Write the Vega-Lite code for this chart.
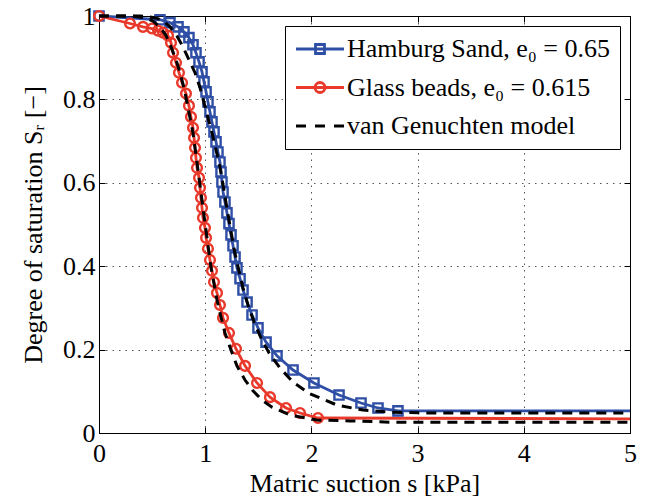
{
  "$schema": "https://vega.github.io/schema/vega-lite/v6.json",
  "autosize": {"type": "none"},
  "width": 531,
  "height": 417,
  "padding": {"left": 99, "top": 16, "right": 16, "bottom": 67},
  "background": "white",
  "datasets": {
    "measured": [
      {"series": "Hamburg Sand, e₀ = 0.65", "s": 0, "Sr": 1.0},
      {"series": "Hamburg Sand, e₀ = 0.65", "s": 0.574, "Sr": 0.991},
      {"series": "Hamburg Sand, e₀ = 0.65", "s": 0.668, "Sr": 0.984},
      {"series": "Hamburg Sand, e₀ = 0.65", "s": 0.744, "Sr": 0.974},
      {"series": "Hamburg Sand, e₀ = 0.65", "s": 0.8, "Sr": 0.962},
      {"series": "Hamburg Sand, e₀ = 0.65", "s": 0.847, "Sr": 0.948},
      {"series": "Hamburg Sand, e₀ = 0.65", "s": 0.885, "Sr": 0.931},
      {"series": "Hamburg Sand, e₀ = 0.65", "s": 0.913, "Sr": 0.912},
      {"series": "Hamburg Sand, e₀ = 0.65", "s": 0.942, "Sr": 0.89},
      {"series": "Hamburg Sand, e₀ = 0.65", "s": 0.97, "Sr": 0.866},
      {"series": "Hamburg Sand, e₀ = 0.65", "s": 0.989, "Sr": 0.842},
      {"series": "Hamburg Sand, e₀ = 0.65", "s": 1.008, "Sr": 0.818},
      {"series": "Hamburg Sand, e₀ = 0.65", "s": 1.026, "Sr": 0.794},
      {"series": "Hamburg Sand, e₀ = 0.65", "s": 1.045, "Sr": 0.77},
      {"series": "Hamburg Sand, e₀ = 0.65", "s": 1.064, "Sr": 0.746},
      {"series": "Hamburg Sand, e₀ = 0.65", "s": 1.083, "Sr": 0.722},
      {"series": "Hamburg Sand, e₀ = 0.65", "s": 1.102, "Sr": 0.698},
      {"series": "Hamburg Sand, e₀ = 0.65", "s": 1.12, "Sr": 0.674},
      {"series": "Hamburg Sand, e₀ = 0.65", "s": 1.139, "Sr": 0.65},
      {"series": "Hamburg Sand, e₀ = 0.65", "s": 1.149, "Sr": 0.626},
      {"series": "Hamburg Sand, e₀ = 0.65", "s": 1.158, "Sr": 0.602},
      {"series": "Hamburg Sand, e₀ = 0.65", "s": 1.168, "Sr": 0.578},
      {"series": "Hamburg Sand, e₀ = 0.65", "s": 1.186, "Sr": 0.554},
      {"series": "Hamburg Sand, e₀ = 0.65", "s": 1.205, "Sr": 0.528},
      {"series": "Hamburg Sand, e₀ = 0.65", "s": 1.224, "Sr": 0.502},
      {"series": "Hamburg Sand, e₀ = 0.65", "s": 1.243, "Sr": 0.475},
      {"series": "Hamburg Sand, e₀ = 0.65", "s": 1.262, "Sr": 0.449},
      {"series": "Hamburg Sand, e₀ = 0.65", "s": 1.281, "Sr": 0.422},
      {"series": "Hamburg Sand, e₀ = 0.65", "s": 1.299, "Sr": 0.396},
      {"series": "Hamburg Sand, e₀ = 0.65", "s": 1.328, "Sr": 0.37},
      {"series": "Hamburg Sand, e₀ = 0.65", "s": 1.356, "Sr": 0.343},
      {"series": "Hamburg Sand, e₀ = 0.65", "s": 1.394, "Sr": 0.314},
      {"series": "Hamburg Sand, e₀ = 0.65", "s": 1.441, "Sr": 0.283},
      {"series": "Hamburg Sand, e₀ = 0.65", "s": 1.497, "Sr": 0.252},
      {"series": "Hamburg Sand, e₀ = 0.65", "s": 1.573, "Sr": 0.218},
      {"series": "Hamburg Sand, e₀ = 0.65", "s": 1.676, "Sr": 0.185},
      {"series": "Hamburg Sand, e₀ = 0.65", "s": 1.827, "Sr": 0.151},
      {"series": "Hamburg Sand, e₀ = 0.65", "s": 2.024, "Sr": 0.12},
      {"series": "Hamburg Sand, e₀ = 0.65", "s": 2.26, "Sr": 0.091},
      {"series": "Hamburg Sand, e₀ = 0.65", "s": 2.467, "Sr": 0.072},
      {"series": "Hamburg Sand, e₀ = 0.65", "s": 2.627, "Sr": 0.06},
      {"series": "Hamburg Sand, e₀ = 0.65", "s": 2.815, "Sr": 0.053},
      {"series": "Hamburg Sand, e₀ = 0.65", "s": 5.0, "Sr": 0.053},
      {"series": "Glass beads, e₀ = 0.615", "s": 0, "Sr": 1.0},
      {"series": "Glass beads, e₀ = 0.615", "s": 0.292, "Sr": 0.982},
      {"series": "Glass beads, e₀ = 0.615", "s": 0.414, "Sr": 0.974},
      {"series": "Glass beads, e₀ = 0.615", "s": 0.499, "Sr": 0.97},
      {"series": "Glass beads, e₀ = 0.615", "s": 0.556, "Sr": 0.965},
      {"series": "Glass beads, e₀ = 0.615", "s": 0.603, "Sr": 0.96},
      {"series": "Glass beads, e₀ = 0.615", "s": 0.65, "Sr": 0.953},
      {"series": "Glass beads, e₀ = 0.615", "s": 0.678, "Sr": 0.936},
      {"series": "Glass beads, e₀ = 0.615", "s": 0.697, "Sr": 0.912},
      {"series": "Glass beads, e₀ = 0.615", "s": 0.725, "Sr": 0.888},
      {"series": "Glass beads, e₀ = 0.615", "s": 0.753, "Sr": 0.864},
      {"series": "Glass beads, e₀ = 0.615", "s": 0.782, "Sr": 0.84},
      {"series": "Glass beads, e₀ = 0.615", "s": 0.819, "Sr": 0.814},
      {"series": "Glass beads, e₀ = 0.615", "s": 0.847, "Sr": 0.785},
      {"series": "Glass beads, e₀ = 0.615", "s": 0.866, "Sr": 0.758},
      {"series": "Glass beads, e₀ = 0.615", "s": 0.885, "Sr": 0.732},
      {"series": "Glass beads, e₀ = 0.615", "s": 0.895, "Sr": 0.708},
      {"series": "Glass beads, e₀ = 0.615", "s": 0.904, "Sr": 0.684},
      {"series": "Glass beads, e₀ = 0.615", "s": 0.913, "Sr": 0.66},
      {"series": "Glass beads, e₀ = 0.615", "s": 0.923, "Sr": 0.636},
      {"series": "Glass beads, e₀ = 0.615", "s": 0.942, "Sr": 0.612},
      {"series": "Glass beads, e₀ = 0.615", "s": 0.951, "Sr": 0.588},
      {"series": "Glass beads, e₀ = 0.615", "s": 0.96, "Sr": 0.564},
      {"series": "Glass beads, e₀ = 0.615", "s": 0.97, "Sr": 0.54},
      {"series": "Glass beads, e₀ = 0.615", "s": 0.979, "Sr": 0.516},
      {"series": "Glass beads, e₀ = 0.615", "s": 0.998, "Sr": 0.492},
      {"series": "Glass beads, e₀ = 0.615", "s": 1.008, "Sr": 0.468},
      {"series": "Glass beads, e₀ = 0.615", "s": 1.026, "Sr": 0.442},
      {"series": "Glass beads, e₀ = 0.615", "s": 1.045, "Sr": 0.415},
      {"series": "Glass beads, e₀ = 0.615", "s": 1.064, "Sr": 0.389},
      {"series": "Glass beads, e₀ = 0.615", "s": 1.083, "Sr": 0.362},
      {"series": "Glass beads, e₀ = 0.615", "s": 1.111, "Sr": 0.336},
      {"series": "Glass beads, e₀ = 0.615", "s": 1.139, "Sr": 0.307},
      {"series": "Glass beads, e₀ = 0.615", "s": 1.168, "Sr": 0.276},
      {"series": "Glass beads, e₀ = 0.615", "s": 1.224, "Sr": 0.24},
      {"series": "Glass beads, e₀ = 0.615", "s": 1.29, "Sr": 0.202},
      {"series": "Glass beads, e₀ = 0.615", "s": 1.375, "Sr": 0.161},
      {"series": "Glass beads, e₀ = 0.615", "s": 1.488, "Sr": 0.12},
      {"series": "Glass beads, e₀ = 0.615", "s": 1.61, "Sr": 0.086},
      {"series": "Glass beads, e₀ = 0.615", "s": 1.761, "Sr": 0.06},
      {"series": "Glass beads, e₀ = 0.615", "s": 1.893, "Sr": 0.048},
      {"series": "Glass beads, e₀ = 0.615", "s": 2.062, "Sr": 0.036},
      {"series": "Glass beads, e₀ = 0.615", "s": 5.0, "Sr": 0.034}
    ],
    "model": [
      {"material": "Hamburg Sand", "s": 0, "Sr": 1.0},
      {"material": "Hamburg Sand", "s": 0.386, "Sr": 1.0},
      {"material": "Hamburg Sand", "s": 0.527, "Sr": 0.996},
      {"material": "Hamburg Sand", "s": 0.603, "Sr": 0.989},
      {"material": "Hamburg Sand", "s": 0.669, "Sr": 0.974},
      {"material": "Hamburg Sand", "s": 0.734, "Sr": 0.952},
      {"material": "Hamburg Sand", "s": 0.791, "Sr": 0.926},
      {"material": "Hamburg Sand", "s": 0.847, "Sr": 0.895},
      {"material": "Hamburg Sand", "s": 0.904, "Sr": 0.864},
      {"material": "Hamburg Sand", "s": 0.951, "Sr": 0.828},
      {"material": "Hamburg Sand", "s": 0.989, "Sr": 0.792},
      {"material": "Hamburg Sand", "s": 1.026, "Sr": 0.756},
      {"material": "Hamburg Sand", "s": 1.064, "Sr": 0.72},
      {"material": "Hamburg Sand", "s": 1.102, "Sr": 0.679},
      {"material": "Hamburg Sand", "s": 1.139, "Sr": 0.638},
      {"material": "Hamburg Sand", "s": 1.168, "Sr": 0.595},
      {"material": "Hamburg Sand", "s": 1.196, "Sr": 0.552},
      {"material": "Hamburg Sand", "s": 1.224, "Sr": 0.511},
      {"material": "Hamburg Sand", "s": 1.252, "Sr": 0.47},
      {"material": "Hamburg Sand", "s": 1.281, "Sr": 0.43},
      {"material": "Hamburg Sand", "s": 1.318, "Sr": 0.389},
      {"material": "Hamburg Sand", "s": 1.356, "Sr": 0.348},
      {"material": "Hamburg Sand", "s": 1.403, "Sr": 0.307},
      {"material": "Hamburg Sand", "s": 1.46, "Sr": 0.266},
      {"material": "Hamburg Sand", "s": 1.525, "Sr": 0.228},
      {"material": "Hamburg Sand", "s": 1.601, "Sr": 0.192},
      {"material": "Hamburg Sand", "s": 1.704, "Sr": 0.156},
      {"material": "Hamburg Sand", "s": 1.827, "Sr": 0.122},
      {"material": "Hamburg Sand", "s": 1.987, "Sr": 0.094},
      {"material": "Hamburg Sand", "s": 2.241, "Sr": 0.067},
      {"material": "Hamburg Sand", "s": 2.486, "Sr": 0.055},
      {"material": "Hamburg Sand", "s": 2.74, "Sr": 0.05},
      {"material": "Hamburg Sand", "s": 3.117, "Sr": 0.048},
      {"material": "Hamburg Sand", "s": 5.0, "Sr": 0.048},
      {"material": "Glass beads", "s": 0, "Sr": 1.0},
      {"material": "Glass beads", "s": 0.292, "Sr": 1.0},
      {"material": "Glass beads", "s": 0.433, "Sr": 0.996},
      {"material": "Glass beads", "s": 0.508, "Sr": 0.988},
      {"material": "Glass beads", "s": 0.574, "Sr": 0.974},
      {"material": "Glass beads", "s": 0.631, "Sr": 0.953},
      {"material": "Glass beads", "s": 0.678, "Sr": 0.926},
      {"material": "Glass beads", "s": 0.725, "Sr": 0.895},
      {"material": "Glass beads", "s": 0.763, "Sr": 0.864},
      {"material": "Glass beads", "s": 0.8, "Sr": 0.828},
      {"material": "Glass beads", "s": 0.829, "Sr": 0.792},
      {"material": "Glass beads", "s": 0.857, "Sr": 0.756},
      {"material": "Glass beads", "s": 0.885, "Sr": 0.72},
      {"material": "Glass beads", "s": 0.904, "Sr": 0.684},
      {"material": "Glass beads", "s": 0.923, "Sr": 0.648},
      {"material": "Glass beads", "s": 0.942, "Sr": 0.612},
      {"material": "Glass beads", "s": 0.96, "Sr": 0.576},
      {"material": "Glass beads", "s": 0.979, "Sr": 0.54},
      {"material": "Glass beads", "s": 0.998, "Sr": 0.504},
      {"material": "Glass beads", "s": 1.017, "Sr": 0.468},
      {"material": "Glass beads", "s": 1.036, "Sr": 0.432},
      {"material": "Glass beads", "s": 1.055, "Sr": 0.396},
      {"material": "Glass beads", "s": 1.083, "Sr": 0.358},
      {"material": "Glass beads", "s": 1.111, "Sr": 0.319},
      {"material": "Glass beads", "s": 1.149, "Sr": 0.278},
      {"material": "Glass beads", "s": 1.186, "Sr": 0.24},
      {"material": "Glass beads", "s": 1.243, "Sr": 0.199},
      {"material": "Glass beads", "s": 1.299, "Sr": 0.161},
      {"material": "Glass beads", "s": 1.375, "Sr": 0.127},
      {"material": "Glass beads", "s": 1.45, "Sr": 0.101},
      {"material": "Glass beads", "s": 1.535, "Sr": 0.079},
      {"material": "Glass beads", "s": 1.629, "Sr": 0.062},
      {"material": "Glass beads", "s": 1.798, "Sr": 0.043},
      {"material": "Glass beads", "s": 2.053, "Sr": 0.031},
      {"material": "Glass beads", "s": 2.363, "Sr": 0.029},
      {"material": "Glass beads", "s": 2.74, "Sr": 0.026},
      {"material": "Glass beads", "s": 5.0, "Sr": 0.026}
    ]
  },
  "config": {
    "font": "Liberation Serif",
    "view": {"stroke": "black", "strokeWidth": 1},
    "axis": {
      "labelFont": "Liberation Serif",
      "labelFontSize": 26,
      "labelColor": "black",
      "labelFlush": false,
      "titleFont": "Liberation Serif",
      "titleFontSize": 26,
      "titleFontWeight": "normal",
      "titleColor": "black",
      "domainColor": "black",
      "domainWidth": 1,
      "tickColor": "black",
      "tickWidth": 1,
      "tickSize": -6,
      "gridColor": "#555555",
      "gridDash": [1.5, 5],
      "gridWidth": 1,
      "gridOpacity": 1
    },
    "legend": {
      "title": null,
      "orient": "top-right",
      "offset": 10,
      "strokeColor": "black",
      "strokeWidth": 1,
      "fillColor": "white",
      "padding": 10,
      "labelFont": "Liberation Serif",
      "labelFontSize": 26,
      "labelColor": "black",
      "labelLimit": 400,
      "symbolSize": 400,
      "symbolStrokeWidth": 2.8,
      "symbolOffset": 12,
      "labelOffset": 14,
      "rowPadding": 12.5
    }
  },
  "resolve": {"axis": {"x": "independent", "y": "independent"}},
  "layer": [
    {
      "data": {"name": "measured"},
      "mark": {"type": "line", "strokeWidth": 2.8},
      "encoding": {
        "x": {
          "field": "s", "type": "quantitative",
          "scale": {"domain": [0, 5], "nice": false, "zero": false},
          "axis": {"orient": "bottom", "values": [0, 1, 2, 3, 4, 5], "format": "d", "grid": true, "labelPadding": 13, "title": "Matric suction s [kPa]", "titlePadding": 4}
        },
        "y": {
          "field": "Sr", "type": "quantitative",
          "scale": {"domain": [0, 1], "nice": false},
          "axis": {"orient": "left", "values": [0, 0.2, 0.4, 0.6, 0.8, 1], "format": ".1~f", "grid": true, "labelPadding": 10, "title": "Degree of saturation Sᵣ [−]", "titlePadding": 16}
        },
        "color": {
          "field": "series", "type": "nominal",
          "scale": {
            "domain": ["Hamburg Sand, e₀ = 0.65", "Glass beads, e₀ = 0.615", "van Genuchten model"],
            "range": ["#2f4ea5", "#e8392b", "black"]
          },
          "legend": {
            "encode": {
              "symbols": {
                "update": {
                  "shape": {"signal": "datum.value === 'van Genuchten model' ? 'M-2.4,0H-1.4M-0.5,0H0.5M1.4,0H2.4' : (indexof(datum.value, 'Hamburg') >= 0 ? 'M-2.4,0H2.4M-0.45,-0.45H0.45V0.45H-0.45Z' : 'M-2.4,0H2.4M-0.5,0A0.5,0.5 0 1,0 0.5,0A0.5,0.5 0 1,0 -0.5,0Z')"},
                  "fill": {"value": "transparent"},
                  "strokeWidth": {"value": 2.8}
                }
              }
            }
          }
        },
        "order": {"field": "s", "type": "quantitative"}
      }
    },
    {
      "data": {"name": "measured"},
      "transform": [{"filter": "indexof(datum.series, 'Hamburg') >= 0 && datum.s < 4"}],
      "mark": {"type": "point", "shape": "square", "filled": false, "size": 85, "strokeWidth": 2.4, "color": "#2f4ea5", "opacity": 1},
      "encoding": {
        "x": {"field": "s", "type": "quantitative", "axis": {"orient": "top", "values": [0, 1, 2, 3, 4, 5], "labels": false, "title": null, "grid": false}},
        "y": {"field": "Sr", "type": "quantitative", "axis": {"orient": "right", "values": [0, 0.2, 0.4, 0.6, 0.8, 1], "labels": false, "title": null, "grid": false}}
      }
    },
    {
      "data": {"name": "measured"},
      "transform": [{"filter": "indexof(datum.series, 'Glass') >= 0 && datum.s < 4"}],
      "mark": {"type": "point", "shape": "circle", "filled": false, "size": 95, "strokeWidth": 2.4, "color": "#e8392b", "opacity": 1},
      "encoding": {
        "x": {"field": "s", "type": "quantitative", "axis": null},
        "y": {"field": "Sr", "type": "quantitative", "axis": null}
      }
    },
    {
      "data": {"name": "model"},
      "transform": [{"calculate": "'van Genuchten model'", "as": "series"}],
      "mark": {"type": "line", "strokeWidth": 3, "strokeDash": [10, 7]},
      "encoding": {
        "x": {"field": "s", "type": "quantitative", "axis": null},
        "y": {"field": "Sr", "type": "quantitative", "axis": null},
        "color": {"field": "series", "type": "nominal"},
        "detail": {"field": "material", "type": "nominal"},
        "order": {"field": "s", "type": "quantitative"}
      }
    }
  ]
}
